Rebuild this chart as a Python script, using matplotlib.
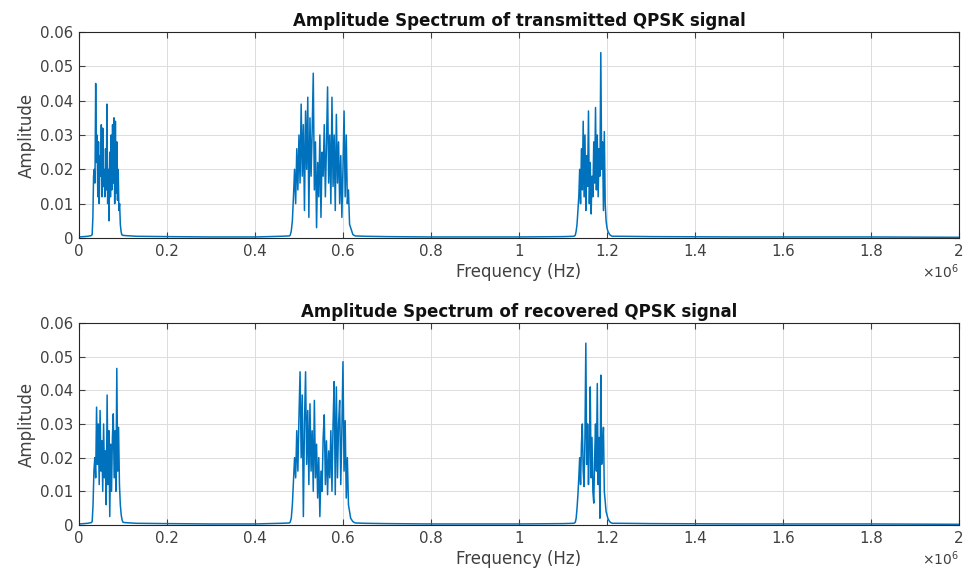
import numpy as np
import matplotlib
matplotlib.use("Agg")
from matplotlib import pyplot as plt
from matplotlib.ticker import FuncFormatter

# noise floor outside the occupied bands (Hz, amplitude)
floor_freq = [0, 10e3, 20e3, 28e3, 105e3, 130e3, 200e3, 300e3, 400e3, 460e3, 478e3,
              628e3, 650e3, 700e3, 800e3, 1000e3, 1100e3, 1125e3, 1213e3, 1230e3,
              1300e3, 1500e3, 1800e3, 2000e3]
floor_amp = [0.0003, 0.0004, 0.0005, 0.0007, 0.0007, 0.0005, 0.0004, 0.0003, 0.0003,
             0.0005, 0.0006, 0.0006, 0.0005, 0.0004, 0.0003, 0.0003, 0.0004, 0.0005,
             0.0005, 0.0005, 0.0004, 0.0003, 0.0003, 0.0002]

# transmitted signal bands: (start Hz, step Hz, amplitudes)
tx_band1 = (30e3, 1.6e3, [0.001, 0.006, 0.018, 0.02, 0.016, 0.045, 0.022, 0.03, 0.012, 0.028,
                          0.01, 0.024, 0.018, 0.033, 0.012, 0.032, 0.015, 0.02, 0.012, 0.026,
                          0.014, 0.039, 0.01, 0.02, 0.005, 0.025, 0.012, 0.03, 0.014, 0.033,
                          0.016, 0.035, 0.01, 0.034, 0.013, 0.028, 0.011, 0.02, 0.008, 0.01,
                          0.004, 0.002, 0.001, 0.0008])
tx_band2 = (480e3, 2.5e3, [0.0008, 0.002, 0.005, 0.012, 0.02, 0.01, 0.026, 0.014, 0.03, 0.016,
                           0.039, 0.018, 0.033, 0.008, 0.037, 0.02, 0.041, 0.006, 0.035, 0.018,
                           0.031, 0.048, 0.014, 0.028, 0.003, 0.022, 0.012, 0.03, 0.006, 0.025,
                           0.018, 0.033, 0.012, 0.027, 0.044, 0.016, 0.03, 0.01, 0.041, 0.015,
                           0.03, 0.008, 0.036, 0.016, 0.028, 0.01, 0.024, 0.006, 0.02, 0.037,
                           0.012, 0.03, 0.01, 0.014, 0.004, 0.003, 0.002, 0.001, 0.0008])
tx_band3 = (1128e3, 2e3, [0.0008, 0.002, 0.004, 0.008, 0.012, 0.02, 0.01, 0.026, 0.014, 0.034,
                          0.012, 0.03, 0.008, 0.024, 0.015, 0.037, 0.01, 0.022, 0.007, 0.018,
                          0.012, 0.028, 0.016, 0.038, 0.014, 0.03, 0.012, 0.026, 0.018, 0.054,
                          0.02, 0.028, 0.008, 0.031, 0.01, 0.005, 0.003, 0.002, 0.0015, 0.001,
                          0.0008, 0.0006])

# recovered signal bands
rx_band1 = (30e3, 2e3, [0.001, 0.006, 0.016, 0.02, 0.014, 0.035, 0.018, 0.03, 0.012, 0.034,
                        0.016, 0.025, 0.01, 0.03, 0.014, 0.022, 0.006, 0.0386, 0.012, 0.028,
                        0.0025, 0.024, 0.01, 0.026, 0.033, 0.014, 0.028, 0.01, 0.0465, 0.016,
                        0.029, 0.012, 0.006, 0.003, 0.0015, 0.0008])
rx_band2 = (480e3, 2.5e3, [0.0008, 0.002, 0.006, 0.013, 0.02, 0.014, 0.028, 0.016, 0.032, 0.0455,
                           0.02, 0.0386, 0.0025, 0.03, 0.0455, 0.018, 0.034, 0.012, 0.036, 0.016,
                           0.028, 0.01, 0.037, 0.014, 0.024, 0.008, 0.02, 0.0025, 0.016, 0.01,
                           0.026, 0.0327, 0.012, 0.025, 0.009, 0.022, 0.014, 0.028, 0.01, 0.03,
                           0.0426, 0.009, 0.041, 0.014, 0.03, 0.037, 0.012, 0.028, 0.0485, 0.016,
                           0.031, 0.008, 0.02, 0.006, 0.004, 0.002, 0.0015, 0.001, 0.0008])
rx_band3 = (1128e3, 2e3, [0.0008, 0.002, 0.005, 0.009, 0.014, 0.02, 0.012, 0.024, 0.03, 0.016,
                          0.0114, 0.026, 0.054, 0.018, 0.03, 0.012, 0.024, 0.041, 0.014, 0.026,
                          0.01, 0.0065, 0.02, 0.03, 0.016, 0.042, 0.012, 0.026, 0.002, 0.0445,
                          0.018, 0.022, 0.029, 0.01, 0.007, 0.004, 0.003, 0.002, 0.0015, 0.001,
                          0.0008, 0.0006])

titles = ["Amplitude Spectrum of transmitted QPSK signal",
          "Amplitude Spectrum of recovered QPSK signal"]
xticks = [0, 0.2e6, 0.4e6, 0.6e6, 0.8e6, 1.0e6, 1.2e6, 1.4e6, 1.6e6, 1.8e6, 2.0e6]
yticks = [0, 0.01, 0.02, 0.03, 0.04, 0.05, 0.06]


def build_spectrum(bands):
    f = list(floor_freq)
    a = list(floor_amp)
    for start, step, amps in bands:
        f += list(start + step * np.arange(len(amps)))
        a += amps
    order = np.argsort(f)
    return np.array(f)[order], np.array(a)[order]


plt.rcParams['font.family'] = 'DejaVu Sans'
fig = plt.figure(figsize=(9.63, 5.71), dpi=100)
ax1 = fig.add_axes([0.082, 0.5832, 0.9138, 0.3608])
ax2 = fig.add_axes([0.082, 0.0806, 0.9138, 0.3538])

blue = '#0072BD'
txt = '#404040'
for ax, bands, title in [(ax1, [tx_band1, tx_band2, tx_band3], titles[0]),
                         (ax2, [rx_band1, rx_band2, rx_band3], titles[1])]:
    f, a = build_spectrum(bands)
    ax.plot(f, a, color=blue, linewidth=1.1)
    ax.set_xlim(0, 2e6)
    ax.set_ylim(0, 0.06)
    ax.set_xticks(xticks)
    ax.set_yticks(yticks)
    ax.xaxis.set_major_formatter(FuncFormatter(lambda v, p: '%g' % (v / 1e6)))
    ax.yaxis.set_major_formatter(FuncFormatter(lambda v, p: '%g' % v))
    ax.grid(True, color='#dcdcdc', linewidth=0.7)
    ax.set_axisbelow(True)
    ax.tick_params(direction='in', length=4, labelsize=10.8, colors=txt,
                   top=True, right=True, pad=4)
    for s in ax.spines.values():
        s.set_color('#262626')
        s.set_linewidth(0.8)
    ax.set_title(title, fontsize=12, fontweight='bold', pad=4, color='#111111')
    ax.set_ylabel('Amplitude', fontsize=12, color=txt, labelpad=3)
    ax.set_xlabel('Frequency (Hz)', fontsize=12, color=txt, labelpad=3)
    ax.text(1.0, -0.12, r'$\times10^6$', transform=ax.transAxes, ha='right',
            va='top', fontsize=10, color=txt)

plt.savefig('out.png', dpi=100)
